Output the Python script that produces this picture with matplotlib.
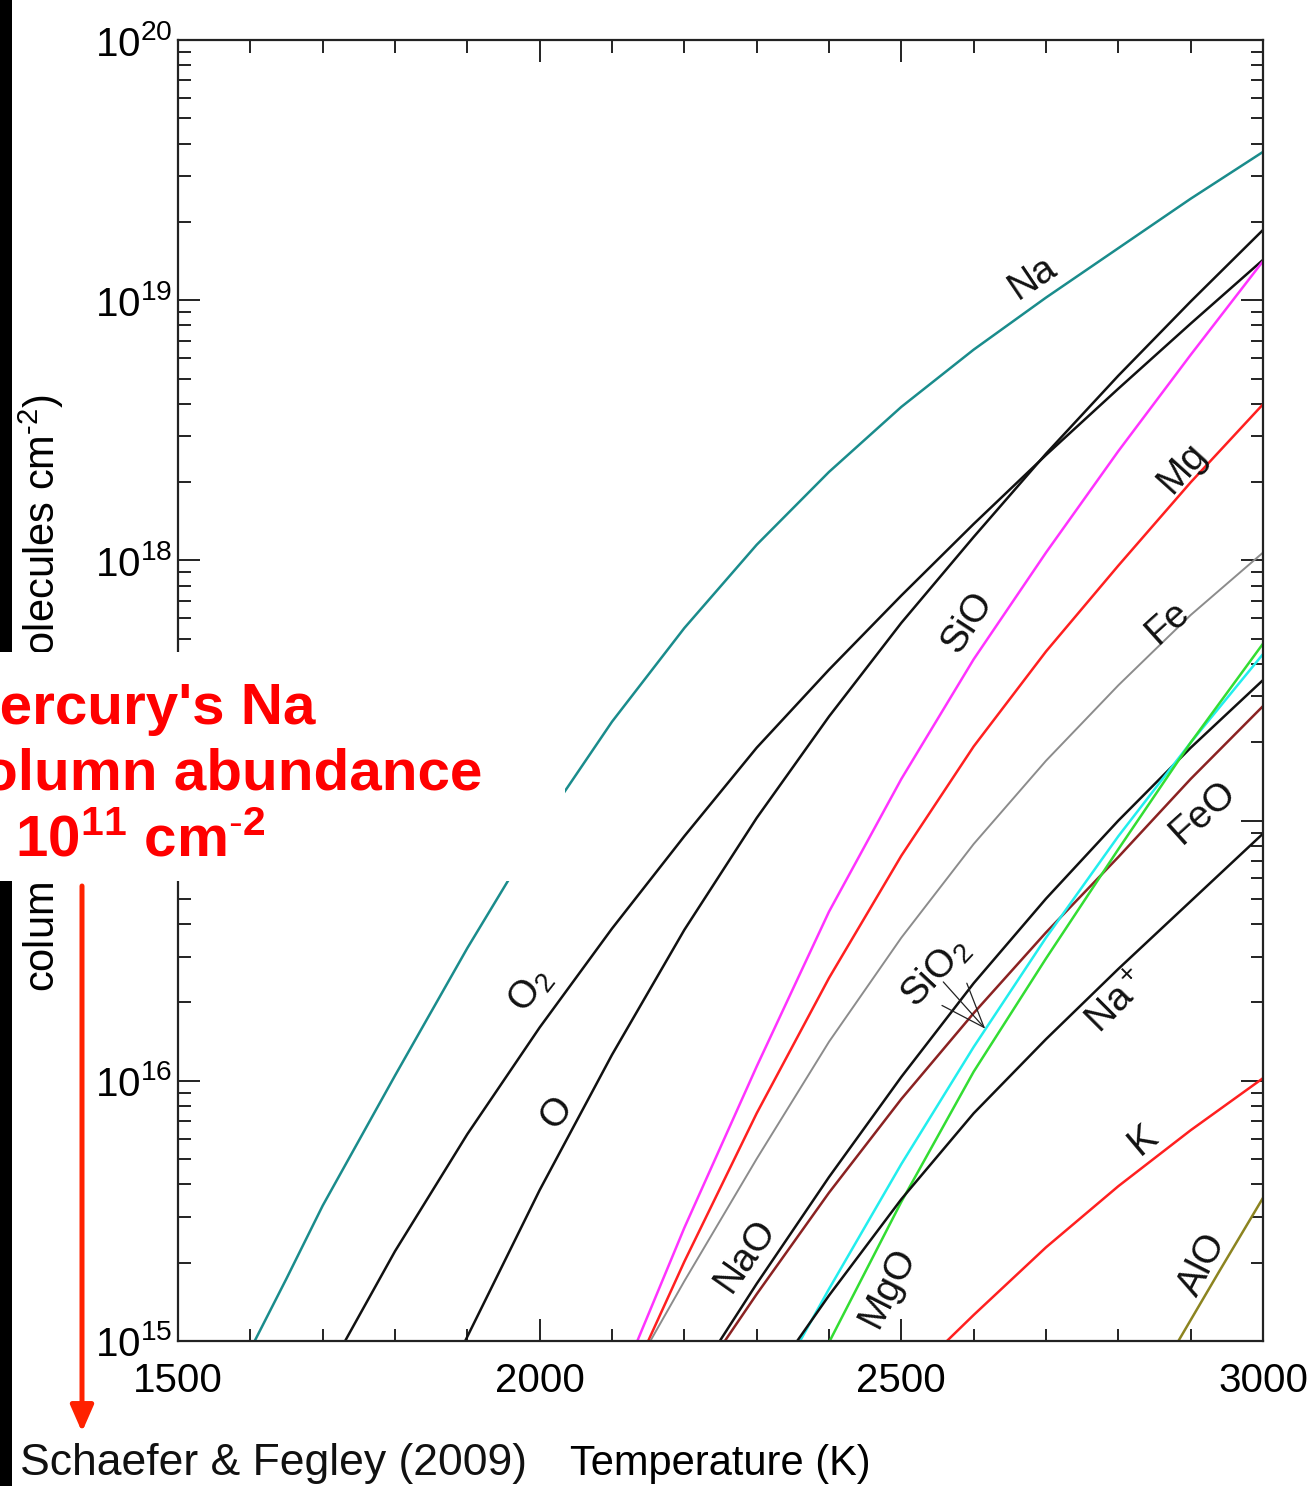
import numpy as np
import matplotlib
matplotlib.use("Agg")
import matplotlib.pyplot as plt
from matplotlib.patches import Rectangle, FancyArrowPatch
from matplotlib.ticker import MultipleLocator, LogLocator, NullFormatter

plt.rcParams['font.family'] = ['Liberation Sans', 'DejaVu Sans']
plt.rcParams['mathtext.fontset'] = 'custom'
plt.rcParams['mathtext.rm'] = 'Liberation Sans'
plt.rcParams['mathtext.it'] = 'Liberation Sans:italic'
plt.rcParams['mathtext.bf'] = 'Liberation Sans:bold'

# temperature (K) and log10 column density (molecules cm^-2)
na_T = [1606, 1650, 1700, 1800, 1900, 2000, 2100, 2200, 2300, 2400, 2500, 2600, 2700, 2800, 2900, 3000]
na_logN = [15.0, 15.24, 15.52, 16.02, 16.51, 16.97, 17.38, 17.74, 18.06, 18.34, 18.59, 18.81, 19.01, 19.20, 19.39, 19.57]

o2_T = [1731, 1800, 1900, 2000, 2100, 2200, 2300, 2400, 2500, 2600, 2700, 2800, 2900, 3000]
o2_logN = [15.0, 15.345, 15.795, 16.205, 16.585, 16.94, 17.28, 17.58, 17.865, 18.14, 18.405, 18.66, 18.91, 19.155]

o_T = [1897, 2000, 2100, 2200, 2300, 2400, 2500, 2600, 2700, 2800, 2900, 3000]
o_logN = [15.0, 15.58, 16.10, 16.58, 17.01, 17.40, 17.76, 18.09, 18.41, 18.71, 18.995, 19.27]

sio_T = [2135, 2200, 2300, 2400, 2500, 2600, 2700, 2800, 2900, 3000]
sio_logN = [15.0, 15.435, 16.055, 16.65, 17.16, 17.62, 18.03, 18.42, 18.79, 19.15]

mg_T = [2150, 2200, 2300, 2400, 2500, 2600, 2700, 2800, 2900, 3000]
mg_logN = [15.0, 15.305, 15.875, 16.395, 16.865, 17.285, 17.65, 17.98, 18.30, 18.60]

fe_T = [2153, 2200, 2300, 2400, 2500, 2600, 2700, 2800, 2900, 3000]
fe_logN = [15.0, 15.23, 15.70, 16.15, 16.55, 16.91, 17.23, 17.52, 17.79, 18.03]

nao_T = [2249, 2300, 2400, 2500, 2600, 2700, 2800, 2900, 3000]
nao_logN = [15.0, 15.22, 15.63, 16.015, 16.375, 16.70, 17.00, 17.28, 17.54]

feo_T = [2256, 2300, 2400, 2500, 2600, 2700, 2800, 2900, 3000]
feo_logN = [15.0, 15.18, 15.57, 15.93, 16.26, 16.57, 16.86, 17.16, 17.44]

sio2_T = [2360, 2400, 2500, 2600, 2700, 2800, 2900, 3000]
sio2_logN = [15.0, 15.2, 15.68, 16.13, 16.55, 16.94, 17.30, 17.64]

mgo_T = [2401, 2500, 2600, 2700, 2800, 2900, 3000]
mgo_logN = [15.0, 15.535, 16.035, 16.47, 16.89, 17.30, 17.68]

nap_T = [2356, 2400, 2500, 2600, 2700, 2800, 2900, 3000]
nap_logN = [15.0, 15.175, 15.545, 15.875, 16.16, 16.43, 16.69, 16.95]

k_T = [2563, 2600, 2700, 2800, 2900, 3000]
k_logN = [15.0, 15.10, 15.36, 15.595, 15.81, 16.01]

alo_T = [2883, 2940, 3000]
alo_logN = [15.0, 15.27, 15.55]

x_ticks = [1500, 2000, 2500, 3000]
y_ticks = [1e15, 1e16, 1e17, 1e18, 1e19, 1e20]
y_tick_labels = [r'$10^{15}$', r'$10^{16}$', r'$10^{17}$', r'$10^{18}$', r'$10^{19}$', r'$10^{20}$']

curves = [
    (na_T, na_logN, '#1a8c8c', 1.8),
    (o2_T, o2_logN, '#111111', 1.8),
    (o_T, o_logN, '#111111', 1.8),
    (sio_T, sio_logN, '#ff33ff', 1.8),
    (mg_T, mg_logN, '#ff2020', 1.8),
    (fe_T, fe_logN, '#8c8c8c', 1.4),
    (nao_T, nao_logN, '#111111', 1.8),
    (feo_T, feo_logN, '#8b2222', 1.8),
    (sio2_T, sio2_logN, '#22eeee', 1.8),
    (mgo_T, mgo_logN, '#33dd33', 1.8),
    (nap_T, nap_logN, '#111111', 1.8),
    (k_T, k_logN, '#ff2020', 1.8),
    (alo_T, alo_logN, '#8c8420', 1.8),
]

# species labels: text, T, log10 N, rotation
labels = [
    ('Na', 2682, 19.085, 34),
    ('Mg', 2889, 18.355, 48),
    ('SiO', 2592, 17.763, 57),
    ('Fe', 2869, 17.763, 42),
    ('FeO', 2917, 17.033, 42),
    (r'SiO$_2$', 2547, 16.418, 47),
    (r'Na$^+$', 2800, 16.299, 45),
    (r'O$_2$', 1987, 16.349, 52),
    ('O', 2024, 15.876, 52),
    ('NaO', 2284, 15.33, 55),
    ('MgO', 2482, 15.207, 63),
    ('K', 2834, 15.772, 40),
    ('AlO', 2917, 15.292, 63),
]

W, H = 1316, 1486
fig = plt.figure(figsize=(W / 100, H / 100), dpi=100)
ax = fig.add_axes([178 / W, 1 - 1341 / H, (1263 - 178) / W, (1341 - 40) / H])

for T, logN, col, lw in curves:
    ax.plot(T, 10 ** np.array(logN), color=col, lw=lw, solid_joinstyle='round')

for txt, T, lN, rot in labels:
    ax.text(T, 10 ** lN, txt, fontsize=28, rotation=rot, ha='center', va='center',
            rotation_mode='anchor', color='#111111')

ax.annotate('', xy=(2616, 10 ** 16.20), xytext=(2558, 10 ** 16.38),
            arrowprops=dict(arrowstyle='->,head_length=1.6,head_width=0.6',
                            mutation_scale=20, lw=0.9, color='#222222',
                            shrinkA=0, shrinkB=0))

ax.set_yscale('log')
ax.set_xlim(1500, 3000)
ax.set_ylim(1e15, 1e20)
ax.set_xticks(x_ticks)
ax.xaxis.set_minor_locator(MultipleLocator(100))
ax.set_yticks(y_ticks, y_tick_labels)
ax.yaxis.set_minor_locator(LogLocator(base=10, subs=np.arange(2, 10)))
ax.yaxis.set_minor_formatter(NullFormatter())
ax.tick_params(which='both', direction='in', top=True, right=True, width=1.4,
               color='#222222')
ax.tick_params(which='major', length=16, labelsize=29)
ax.tick_params(which='minor', length=9)
ax.tick_params(axis='x', which='major', pad=15)
ax.tick_params(axis='y', which='major', pad=4)
for s in ax.spines.values():
    s.set_linewidth(1.6)
    s.set_color('#222222')

ax.set_ylabel(r'column density (molecules cm$^{\text{-}2}$)', fontsize=30)
ax.yaxis.set_label_coords(-0.103, 0.498)
ax.set_xlabel('Temperature (K)', fontsize=30)
ax.xaxis.set_label_coords(0.5, -0.079)

# overlay: black strip on the left edge, white box with red note, red arrow
fig.patches.append(Rectangle((0, 0), 12 / W, 1, transform=fig.transFigure,
                             facecolor='black', edgecolor='none', zorder=1))
fig.patches.append(Rectangle((0, 1 - 881 / H), 565 / W, (881 - 652) / H,
                             transform=fig.transFigure, facecolor='white',
                             edgecolor='none', zorder=2))
fig.text(-49 / W, 1 - 724 / H, "Mercury's Na", fontsize=42, fontweight='bold',
         color='#ff0000', va='baseline', ha='left', zorder=5)
fig.text(-60 / W, 1 - 790 / H, "Column abundance", fontsize=42, fontweight='bold',
         color='#ff0000', va='baseline', ha='left', zorder=5)
fig.text(15 / W, 1 - 857 / H, r"10$^{\mathbf{11}}$ cm$^{\mathbf{\text{-}2}}$", fontsize=42,
         fontweight='bold', color='#ff0000', va='baseline', ha='left', zorder=5)

fig.patches.append(FancyArrowPatch((82 / W, 1 - 886 / H), (82 / W, 1 - 1432 / H),
                                   transform=fig.transFigure,
                                   arrowstyle='-|>,head_length=0.8,head_width=0.35',
                                   mutation_scale=20, lw=3.6, color='#ff2200',
                                   shrinkA=0, shrinkB=0, zorder=5))

fig.text(20 / W, 1 - 1475 / H, 'Schaefer & Fegley (2009)', fontsize=32,
         va='baseline', ha='left', color='#111111')

fig.savefig('out.png', dpi=100)
